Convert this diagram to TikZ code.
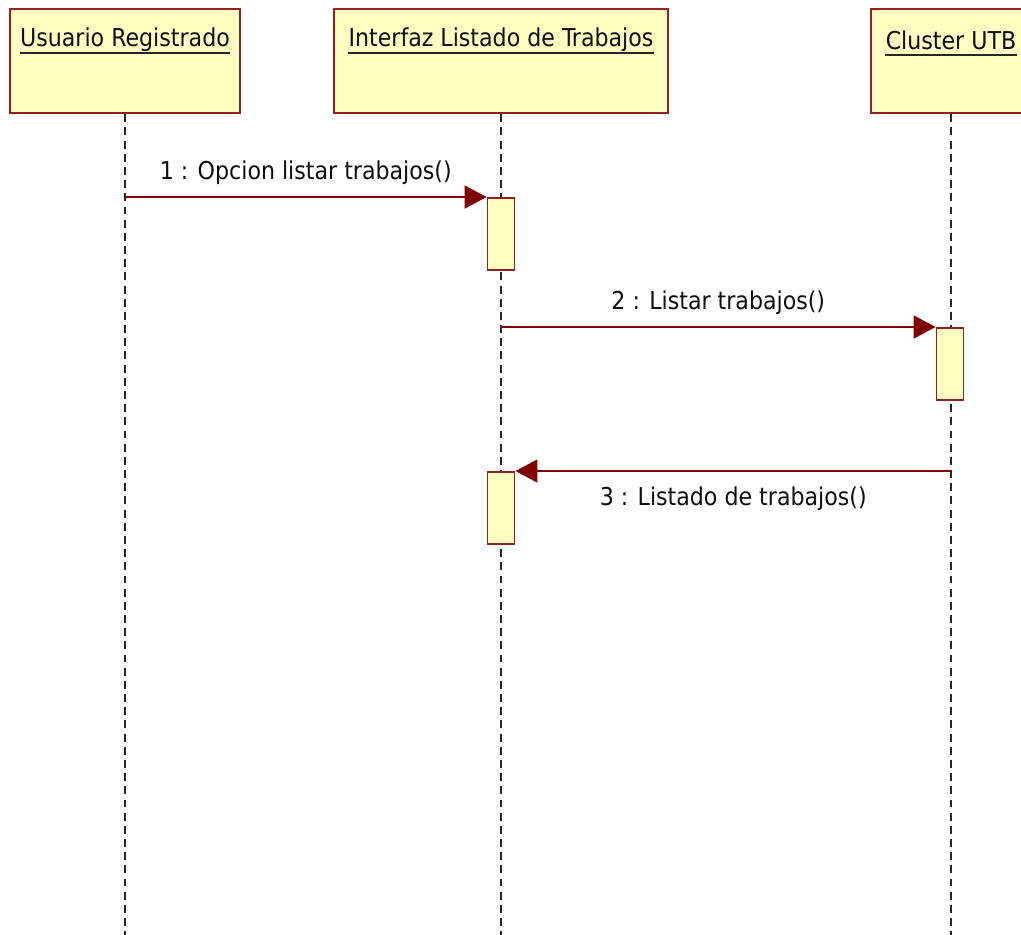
\documentclass[tikz,border=0pt]{standalone}
\usepackage{fontspec}
\setmainfont{DejaVu Sans Condensed}
\usetikzlibrary{arrows.meta,calc,positioning}
\usepackage{xcolor}
\definecolor{umlred}{RGB}{128,0,0}
\definecolor{umlborder}{RGB}{150,30,30}
\definecolor{umlfill}{RGB}{255,255,194}

\tikzset{
  objbox/.style={draw=umlborder,fill=umlfill,line width=1.5pt,minimum height=2.08cm,inner sep=0pt},
  objtitle/.style={font=\fontsize{14}{16}\selectfont,text=black!95,inner sep=0pt},
  titleline/.style={black!85,line width=1.2pt},
  activation/.style={draw=umlborder,fill=umlfill,line width=1.1pt,minimum width=0.54cm,minimum height=1.44cm,inner sep=0pt},
  lifeline/.style={black!85,line width=0.8pt,dash pattern=on 4.5pt off 3pt},
  msg/.style={umlred,line width=1.1pt,-{Triangle[length=0.44cm,width=0.46cm]}},
  msglabel/.style={font=\fontsize{14}{16}\selectfont,text=black!95,inner sep=0pt}
}

\begin{document}
\begin{tikzpicture}[x=0.02cm,y=-0.02cm]
        \useasboundingbox (0,0) rectangle (1021,935);
        \clip (0,0) rectangle (1021,935);
        % objects
        \node[objbox,minimum width=4.6cm] (usuario) at (125,61) {};
        \node[objbox,minimum width=6.68cm] (interfaz) at (501,61) {};
        \node[objbox,minimum width=3.2cm] (cluster) at (951,61) {};
        \node[objtitle] (usuario-t) at (125,40) {Usuario Registrado};
        \node[objtitle] (interfaz-t) at (501,40) {Interfaz Listado de Trabajos};
        \node[objtitle] (cluster-t) at (951,40) {Cluster UTB};
        % underlines of the object names
        \foreach \t in {usuario-t,interfaz-t,cluster-t}
          \draw[titleline] ($(\t.base west)+(0,6)$) -- ($(\t.base east)+(0,6)$);
        % lifelines
        \coordinate (usuario-end) at (125,935);
        \coordinate (interfaz-end) at (501,935);
        \coordinate (cluster-end) at (951,935);
        \draw[lifeline] (usuario.south) -- (usuario-end);
        \draw[lifeline] (interfaz.south) -- (interfaz-end);
        \draw[lifeline] (cluster.south) -- (cluster-end);
        % activations
        \node[activation] (act1) at (501,234) {};
        \node[activation] (act2) at (950,364) {};
        \node[activation] (act3) at (501,508) {};
        % messages
        \draw[msg] (usuario.south |- act1.north) -- (act1.north west)
          node[msglabel,midway,above=0.22cm] (msg1) {1 : Opcion listar trabajos()};
        \draw[msg] (interfaz.south |- act2.north) -- (act2.north west)
          node[msglabel,midway,above=0.22cm] (msg2) {2 : Listar trabajos()};
        \draw[msg] (cluster.south |- act3.north) -- (act3.north east)
          node[msglabel,midway,below=0.3cm] (msg3) {3 : Listado de trabajos()};
\end{tikzpicture}
\end{document}
